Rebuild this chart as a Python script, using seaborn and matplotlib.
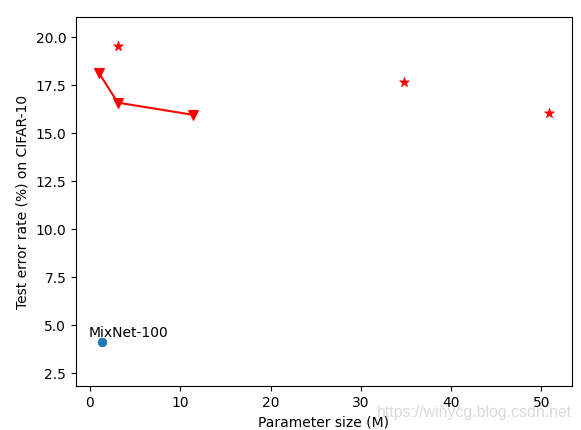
import pandas as pd
import matplotlib
matplotlib.use("Agg")
import matplotlib.pyplot as plt
import seaborn as sns

# red line with down triangles
line_params = [1.03, 3.07, 11.37]
line_errors = [18.12, 16.6, 15.97]

# red stars
star_params = [3.14, 34.8, 50.8]
star_errors = [19.55, 17.66, 16.04]

# MixNet point
mix_params = [1.37]
mix_errors = [4.11]
mix_label = "MixNet-100"

line_df = pd.DataFrame({"params": line_params, "error": line_errors})
star_df = pd.DataFrame({"params": star_params, "error": star_errors})
mix_df = pd.DataFrame({"params": mix_params, "error": mix_errors})

fig = plt.figure(figsize=(5.81, 4.3), dpi=100)
ax = fig.add_axes([0.1308, 0.1023, 0.8537, 0.8581])

sns.lineplot(data=line_df, x="params", y="error", color="red", marker="v",
             markersize=7, markeredgecolor="red", linewidth=1.5, ax=ax)
sns.scatterplot(data=star_df, x="params", y="error", color="red", marker="*",
                s=55, edgecolor="red", linewidth=0.5, ax=ax)
sns.scatterplot(data=mix_df, x="params", y="error", color="#1f77b4",
                s=40, edgecolor="#1f77b4", linewidth=0.5, ax=ax)
ax.text(mix_params[0] - 1.55, mix_errors[0] + 0.26, mix_label, fontsize=10)

ax.set_xlim(-1.55, 53.4)
ax.set_ylim(1.84, 21.06)
ax.set_xticks([0, 10, 20, 30, 40, 50])
ax.set_yticks([2.5, 5.0, 7.5, 10.0, 12.5, 15.0, 17.5, 20.0])
ax.set_xlabel("Parameter size (M)")
ax.set_ylabel("Test error rate (%) on CIFAR-10")

# faint watermark at the bottom right
fig.text(0.9845, 0.030, "https://winycg.blog.csdn.net", ha="right", va="baseline",
         fontsize=11.4, color="#dadada", family="Liberation Sans")

fig.savefig("out.png", dpi=100)
